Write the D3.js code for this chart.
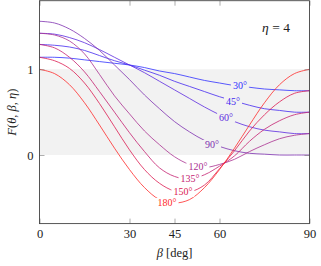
<!DOCTYPE html>
<html>
<head>
<meta charset="utf-8">
<script src="https://cdn.jsdelivr.net/npm/d3@7"></script>
<style>
  body { margin: 0; background: #fff; }
  svg, svg text { font-family: 'Liberation Serif', 'DejaVu Serif', serif; }
  svg { display: block; }
</style>
</head>
<body>
<div id="vis"></div>
<script>
// beta grid [deg] and F values (eta = 4)
const betas = [0, 5, 10, 15, 20, 25, 30, 35, 40, 45, 50, 55, 60, 65, 70, 75, 80, 85, 90];

const f30  = [1.14, 1.14, 1.13, 1.11, 1.09, 1.07, 1.05, 1.02, 0.98, 0.95, 0.91, 0.87, 0.84, 0.81, 0.79, 0.77, 0.76, 0.75, 0.75];
const f45  = [1.29, 1.28, 1.26, 1.22, 1.16, 1.10, 1.05, 0.99, 0.93, 0.86, 0.80, 0.74, 0.68, 0.63, 0.58, 0.54, 0.52, 0.50, 0.50];
const f60  = [1.42, 1.41, 1.37, 1.31, 1.23, 1.14, 1.05, 0.96, 0.86, 0.76, 0.66, 0.56, 0.47, 0.39, 0.33, 0.29, 0.27, 0.25, 0.25];
const f90  = [1.56, 1.54, 1.47, 1.36, 1.22, 1.05, 0.88, 0.70, 0.54, 0.39, 0.27, 0.17, 0.10, 0.05, 0.02, 0.01, 0.00, 0.00, 0.00];
const f120 = [1.42, 1.40, 1.33, 1.18, 0.94, 0.69, 0.48, 0.28, 0.12, -0.02, -0.11, -0.145, -0.11, -0.05, 0.04, 0.12, 0.19, 0.23, 0.25];
const f135 = [1.29, 1.25, 1.14, 0.97, 0.74, 0.50, 0.26, 0.04, -0.15, -0.25, -0.28, -0.23, -0.13, -0.01, 0.16, 0.30, 0.40, 0.47, 0.50];
const f150 = [1.14, 1.10, 1.01, 0.84, 0.60, 0.33, 0.06, -0.17, -0.33, -0.42, -0.43, -0.35, -0.16, 0.05, 0.28, 0.47, 0.62, 0.72, 0.75];
const f180 = [1.00, 0.95, 0.82, 0.61, 0.35, 0.08, -0.17, -0.38, -0.52, -0.56, -0.52, -0.38, -0.17, 0.08, 0.35, 0.61, 0.82, 0.95, 1.00];

const seriesNames = ["30°", "45°", "60°", "90°", "120°", "135°", "150°", "180°"];
const seriesValues = [f30, f45, f60, f90, f120, f135, f150, f180];
const seriesColors = ["#3030ff", "#4428f0", "#5c2ae0", "#7e30b0", "#aa3090", "#c42070", "#dc1a50", "#ff2a2a"];

// where the curve labels sit (beta, F)
const labelBeta = [66.8, 64.5, 62.2, 57.5, 52.8, 50.2, 47.8, 42.5];
const labelF    = [0.805, 0.62, 0.44, 0.117, -0.14, -0.28, -0.43, -0.56];

const xTicks = [0, 30, 45, 60, 90];
const yTicks = [0, 1];

const W = 321, H = 266;
const mLeft = 39.5, mRight = 309.5, mTop = 0.7, mBottom = 223.6;
const serif = "'Liberation Serif', 'DejaVu Serif', serif";

const svg = d3.select("#vis").append("svg")
  .attr("width", W)
  .attr("height", H);

const x = d3.scaleLinear().domain([0, 90]).range([mLeft, mRight]);
const y = d3.scaleLinear().domain([-0.8, 1.8]).range([mBottom, mTop]);

// shaded band 0..1
svg.append("rect")
  .attr("x", x(0)).attr("y", y(1))
  .attr("width", x(90) - x(0)).attr("height", y(0) - y(1))
  .attr("fill", "#f2f2f2");

// curves
const line = d3.line()
  .x((d, i) => x(betas[i]))
  .y(d => y(d))
  .curve(d3.curveCatmullRom.alpha(0.5));

seriesValues.forEach((vals, k) => {
  svg.append("path")
    .datum(vals)
    .attr("d", line)
    .attr("fill", "none")
    .attr("stroke", seriesColors[k])
    .attr("stroke-width", 0.8);
});

// curve labels with a background patch
seriesNames.forEach((name, k) => {
  const cx = x(labelBeta[k]), cy = y(labelF[k]);
  const g = svg.append("g");
  const bg = g.append("rect");
  const t = g.append("text")
    .attr("x", cx).attr("y", cy + 3.3)
    .attr("text-anchor", "middle")
    .attr("font-family", serif)
    .attr("font-size", 10)
    .attr("fill", seriesColors[k])
    .text(name);
  const bb = t.node().getBBox();
  bg.attr("x", bb.x - 2).attr("y", cy - 5)
    .attr("width", bb.width + 4).attr("height", 10)
    .attr("fill", labelF[k] >= 0 && labelF[k] <= 1 ? "#f2f2f2" : "#ffffff");
});

// axes, ticks pointing inwards
const tickStyle = g => {
  g.attr("font-family", serif);
  g.select(".domain").remove();
  g.selectAll(".tick line").attr("stroke", "#777").attr("stroke-width", 0.6);
  g.selectAll(".tick text").attr("fill", "#222")
    .attr("font-family", serif).attr("font-size", 12.5);
};

svg.append("g")
  .attr("transform", `translate(0,${mBottom})`)
  .call(d3.axisBottom(x).tickValues(xTicks).tickSize(-5).tickPadding(6).tickFormat(d3.format("d")))
  .call(tickStyle);

svg.append("g")
  .attr("transform", `translate(0,${mTop})`)
  .call(d3.axisTop(x).tickValues(xTicks).tickSize(-5).tickFormat(""))
  .call(tickStyle);

svg.append("g")
  .attr("transform", `translate(${mLeft},0)`)
  .call(d3.axisLeft(y).tickValues(yTicks).tickSize(-5).tickPadding(6).tickFormat(d3.format("d")))
  .call(tickStyle);

svg.append("g")
  .attr("transform", `translate(${mRight},0)`)
  .call(d3.axisRight(y).tickValues(yTicks).tickSize(-5).tickFormat(""))
  .call(tickStyle);

// frame
svg.append("rect")
  .attr("x", mLeft).attr("y", mTop)
  .attr("width", mRight - mLeft).attr("height", mBottom - mTop)
  .attr("fill", "none")
  .attr("stroke", "#444")
  .attr("stroke-width", 0.9);

// eta annotation
const eta = svg.append("text")
  .attr("x", 276).attr("y", 31.5)
  .attr("text-anchor", "middle")
  .attr("font-family", serif)
  .attr("font-size", 13.5)
  .attr("fill", "#222");
eta.append("tspan").attr("font-style", "italic").text("η");
eta.append("tspan").text(" = 4");

// x label
const xl = svg.append("text")
  .attr("x", (mLeft + mRight) / 2).attr("y", 257)
  .attr("text-anchor", "middle")
  .attr("font-family", serif)
  .attr("font-size", 12.5)
  .attr("fill", "#222");
xl.append("tspan").attr("font-style", "italic").text("β");
xl.append("tspan").text(" [deg]");

// y label
const yl = svg.append("text")
  .attr("transform", `translate(16,${(mTop + mBottom) / 2}) rotate(-90)`)
  .attr("text-anchor", "middle")
  .attr("font-family", serif)
  .attr("font-size", 12.5)
  .attr("fill", "#222");
yl.append("tspan").attr("font-style", "italic").text("F");
yl.append("tspan").text("(");
yl.append("tspan").attr("font-style", "italic").text("θ");
yl.append("tspan").text(", ");
yl.append("tspan").attr("font-style", "italic").text("β");
yl.append("tspan").text(", ");
yl.append("tspan").attr("font-style", "italic").text("η");
yl.append("tspan").text(")");
</script>
</body>
</html>
